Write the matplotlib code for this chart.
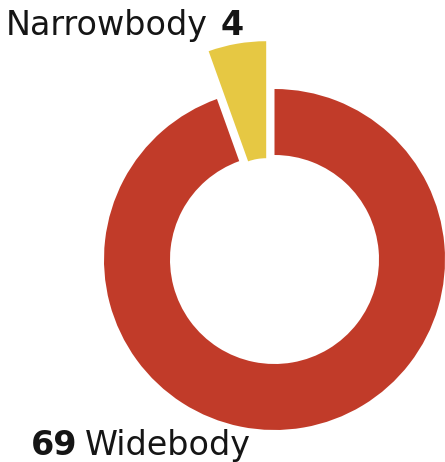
import matplotlib
matplotlib.use("Agg")
import matplotlib.pyplot as plt

categories = ["Widebody", "Narrowbody"]
values = [69, 4]
colors = ["#c13b29", "#e6c843"]

W, H = 445, 462
fig = plt.figure(figsize=(W / 100, H / 100), dpi=100)
ax = fig.add_axes([0, 0, 1, 1])

cx, cy, R = 274.5, H - 259.5, 170.5

# main ring (Widebody)
ax.pie(values, colors=[colors[0], "none"], startangle=90, counterclock=False,
       center=(cx, cy), radius=R, wedgeprops=dict(width=66, linewidth=0))
# exploded Narrowbody slice
ax.pie(values, colors=["none", colors[1]], startangle=90, counterclock=False,
       center=(cx, cy), radius=R, explode=[0, 48.5],
       wedgeprops=dict(width=117, linewidth=0))

ax.set_xlim(0, W)
ax.set_ylim(0, H)
ax.set_aspect("equal")
ax.axis("off")

fam = ["DejaVu Sans"]
fs = 24
tc = "#151515"
ax.text(6, H - 35, categories[1], fontsize=fs, family=fam, color=tc,
        ha="left", va="baseline")
ax.text(221, H - 35, str(values[1]), fontsize=fs, family=fam, fontweight="bold",
        color=tc, ha="left", va="baseline")
ax.text(31, H - 455, str(values[0]), fontsize=fs, family=fam, fontweight="bold",
        color=tc, ha="left", va="baseline")
ax.text(85, H - 455, categories[0], fontsize=fs, family=fam, color=tc,
        ha="left", va="baseline")

fig.savefig("out.png", dpi=100)
